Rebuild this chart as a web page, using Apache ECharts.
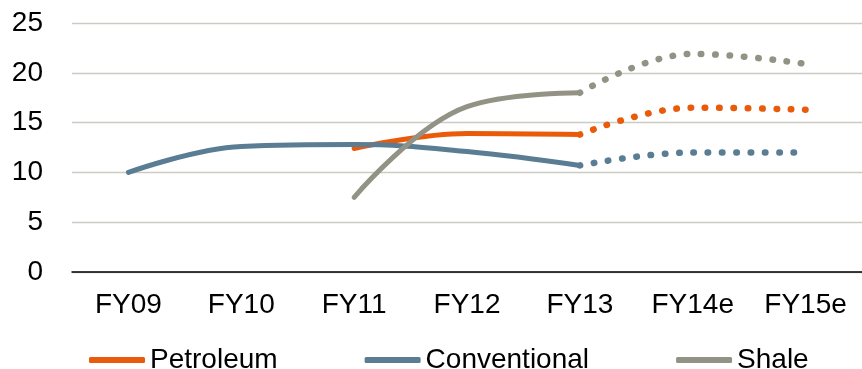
<!DOCTYPE html>
<html><head><meta charset="utf-8">
<script src="https://cdn.jsdelivr.net/npm/echarts@6/dist/echarts.min.js"></script>
<style>html,body{margin:0;padding:0;background:#fff}#c{width:862px;height:369px}</style>
</head><body><div id="c"></div>
<script>
var categories = ['FY09','FY10','FY11','FY12','FY13','FY14e','FY15e'];
var yTicks = [0,5,10,15,20,25];
// actual values (FY09-FY13)
var petroleumActual    = [null, null, 12.4, 13.9, 13.8, null, null];
var conventionalActual = [10.0, 12.6, 12.8, 12.1, 10.7, null, null];
var shaleActual        = [null, null, 7.5, 16.6, 18.0, null, null];
// estimates (FY13-FY15e)
var petroleumEst    = [null, null, null, null, 13.8, 16.5, 16.3];
var conventionalEst = [null, null, null, null, 10.7, 12.0, 12.0];
var shaleEst        = [null, null, null, null, 18.0, 21.9, 20.9];

var cOrange = '#EA5A0B', cBlue = '#5A7D94', cGrey = '#939385';
var font = 'Liberation Sans, Arial, sans-serif';

function solid(name, data, color) {
  return { name: name, type: 'line', data: data, smooth: 0.4, showSymbol: false, symbol: 'none',
    lineStyle: { color: color, width: 5, cap: 'round', join: 'round' }, itemStyle: { color: color } };
}
function dotted(name, data, color) {
  return { name: name, type: 'line', data: data, smooth: 0.4, showSymbol: false, symbol: 'none',
    lineStyle: { color: color, width: 6.5, type: [0.5, 13.8], cap: 'round' }, itemStyle: { color: color } };
}

var chart = echarts.init(document.getElementById('c'), null, { renderer: 'canvas' });
chart.setOption({
  animation: false,
  grid: { left: 72, right: 0, top: 23, bottom: 97, containLabel: false },
  legend: {
    data: ['Petroleum','Conventional','Shale'],
    left: 84, top: 341, icon: 'roundRect', itemWidth: 56, itemHeight: 6, itemGap: 87,
    textStyle: { fontFamily: font, fontSize: 28, color: '#000' }
  },
  xAxis: {
    type: 'category', data: categories, boundaryGap: true,
    axisLine: { lineStyle: { color: '#000', width: 1.5 } },
    axisTick: { show: false },
    axisLabel: { fontFamily: font, fontSize: 28, color: '#000', margin: 19, interval: 0 }
  },
  yAxis: {
    type: 'value', min: yTicks[0], max: yTicks[yTicks.length-1], interval: 5,
    axisLine: { show: false }, axisTick: { show: false },
    axisLabel: { fontFamily: font, fontSize: 28, color: '#000', margin: 29 },
    splitLine: { lineStyle: { color: '#CBCBC3', width: 1.3 } }
  },
  series: [
    solid('Petroleum', petroleumActual, cOrange),
    solid('Conventional', conventionalActual, cBlue),
    solid('Shale', shaleActual, cGrey),
    dotted('Petroleum e', petroleumEst, cOrange),
    dotted('Conventional e', conventionalEst, cBlue),
    dotted('Shale e', shaleEst, cGrey)
  ]
});
</script></body></html>
